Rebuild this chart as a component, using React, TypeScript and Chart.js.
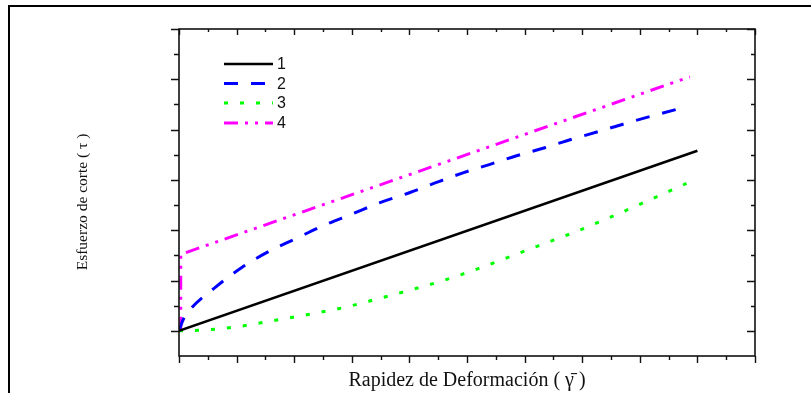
import React, { useEffect, useRef } from "react";
import { Chart, registerables } from "chart.js";

Chart.register(...registerables);

// ---- Data ----
const seriesLabels = ["1", "2", "3", "4"];

const series1X = [0, 9.0];
const series1Y = [0, 3.58];

const series2X = [0, 0.075, 0.22, 0.625, 1.09, 1.58, 2.04, 2.5, 3.0, 3.49, 4.01, 4.47, 4.93, 5.4, 5.86, 6.35, 6.82, 7.31, 7.74, 8.21, 8.7, 8.84];
const series2Y = [0, 0.23, 0.46, 0.86, 1.26, 1.59, 1.84, 2.09, 2.32, 2.55, 2.75, 2.95, 3.14, 3.31, 3.48, 3.64, 3.81, 3.97, 4.12, 4.27, 4.42, 4.46];

const series3X = [0, 0.5, 1.0, 1.72, 2.27, 2.85, 3.43, 3.98, 4.56, 5.08, 5.69, 6.24, 6.82, 7.37, 7.95, 8.52, 8.81];
const series3Y = [0, 0.02, 0.08, 0.22, 0.33, 0.46, 0.63, 0.8, 0.99, 1.19, 1.45, 1.69, 1.94, 2.2, 2.49, 2.78, 2.93];

const series4X = [0.03, 0.03, 8.87];
const series4Y = [0, 1.52, 5.05];

const xMajorTicks = [0, 1, 2, 3, 4, 5, 6, 7, 8, 9, 10];
const xMinorTicks = [0.5, 1.5, 2.5, 3.5, 4.5, 5.5, 6.5, 7.5, 8.5, 9.5];
const yMajorTicks = [0, 1, 2, 3, 4, 5, 6];
const yMinorTicks = [0.5, 1.5, 2.5, 3.5, 4.5, 5.5];

const xAxisTitle = "Rapidez de Deformación ( γ\u0304 )";
const yAxisTitle = "Esfuerzo de corte ( τ )";

const toPoints = (xs: number[], ys: number[]) => xs.map((x, i) => ({ x, y: ys[i] }));

const decorPlugin = {
  id: "decor",
  afterDatasetsDraw(chart: any) {
    const { ctx, chartArea } = chart;
    const xs = chart.scales.x;
    const ys = chart.scales.y;
    const { left, right, top, bottom } = chartArea;
    ctx.save();

    // outer page frame (top + left)
    ctx.strokeStyle = "#000";
    ctx.lineWidth = 2;
    ctx.beginPath();
    ctx.moveTo(9, 400);
    ctx.lineTo(9, 6);
    ctx.lineTo(820, 6);
    ctx.stroke();

    // plot box
    ctx.lineWidth = 1.6;
    ctx.strokeStyle = "#111";
    ctx.strokeRect(left, top, right - left, bottom - top);

    // ticks
    ctx.lineWidth = 1.4;
    ctx.beginPath();
    const xt = (vals: number[], outLen: number, inLen: number) => {
      vals.forEach((v) => {
        const px = Math.round(xs.getPixelForValue(v)) + 0.5;
        ctx.moveTo(px, bottom);
        ctx.lineTo(px, bottom + outLen);
        ctx.moveTo(px, top);
        ctx.lineTo(px, top + inLen);
      });
    };
    const yt = (vals: number[], outLen: number, inLen: number) => {
      vals.forEach((v) => {
        const py = Math.round(ys.getPixelForValue(v)) + 0.5;
        ctx.moveTo(left, py);
        ctx.lineTo(left - outLen, py);
        ctx.moveTo(right, py);
        ctx.lineTo(right - inLen, py);
      });
    };
    xt(xMajorTicks, 7, 6);
    xt(xMinorTicks, 4, 3);
    yt(yMajorTicks, 8, 8);
    yt(yMinorTicks, 5, 4);
    ctx.stroke();

    // axis titles
    ctx.fillStyle = "#111";
    ctx.font = '20px "Liberation Serif", "Times New Roman", serif';
    ctx.textAlign = "center";
    ctx.textBaseline = "middle";
    ctx.fillText(xAxisTitle, (left + right) / 2, 381);

    ctx.save();
    ctx.translate(83, 202);
    ctx.rotate(-Math.PI / 2);
    ctx.font = '15.5px "Liberation Serif", "Times New Roman", serif';
    ctx.fillText(yAxisTitle, 0, 0);
    ctx.restore();

    // legend inside plot
    const lx0 = 224;
    const lx1 = 273;
    const rowY = [64, 83.5, 103, 123];
    chart.data.datasets.forEach((ds: any, i: number) => {
      const y = rowY[i];
      ctx.save();
      ctx.strokeStyle = ds.borderColor;
      ctx.lineWidth = ds.borderWidth;
      ctx.setLineDash(ds.borderDash || []);
      ctx.lineCap = "butt";
      ctx.beginPath();
      ctx.moveTo(lx0, y);
      ctx.lineTo(lx1, y);
      ctx.stroke();
      ctx.restore();
      ctx.fillStyle = "#111";
      ctx.font = '16px "Liberation Sans", Arial, sans-serif';
      ctx.textAlign = "left";
      ctx.textBaseline = "middle";
      ctx.fillText(ds.label, 277, y + 1);
    });

    ctx.restore();
  },
};

export default function App() {
  const canvasRef = useRef<HTMLCanvasElement | null>(null);

  useEffect(() => {
    if (!canvasRef.current) return;
    const chart = new Chart(canvasRef.current, {
      type: "scatter",
      data: {
        datasets: [
          {
            label: seriesLabels[0],
            data: toPoints(series1X, series1Y),
            showLine: true,
            borderColor: "#000000",
            borderWidth: 2.5,
            pointRadius: 0,
            tension: 0,
          },
          {
            label: seriesLabels[1],
            data: toPoints(series2X, series2Y),
            showLine: true,
            borderColor: "#0000ff",
            borderWidth: 3,
            borderDash: [14, 13],
            pointRadius: 0,
            cubicInterpolationMode: "monotone",
          },
          {
            label: seriesLabels[2],
            data: toPoints(series3X, series3Y),
            showLine: true,
            borderColor: "#00ff00",
            borderWidth: 3,
            borderDash: [4, 12],
            pointRadius: 0,
            cubicInterpolationMode: "monotone",
          },
          {
            label: seriesLabels[3],
            data: toPoints(series4X, series4Y),
            showLine: true,
            borderColor: "#ff00ff",
            borderWidth: 3,
            borderDash: [14, 7, 3, 7, 3, 7],
            pointRadius: 0,
            tension: 0,
          },
        ] as any,
      },
      options: {
        responsive: false,
        animation: false,
        layout: { padding: { top: 29, right: 56, bottom: 0, left: 0 } },
        plugins: {
          legend: { display: false },
          tooltip: { enabled: false },
        },
        scales: {
          x: {
            type: "linear",
            min: 0,
            max: 10,
            grid: { display: false },
            ticks: { display: false },
            border: { display: false },
            afterFit: (s: any) => {
              s.height = 37;
            },
          },
          y: {
            type: "linear",
            min: -0.5,
            max: 6,
            grid: { display: false },
            ticks: { display: false },
            border: { display: false },
            afterFit: (s: any) => {
              s.width = 179;
            },
          },
        },
      } as any,
      plugins: [decorPlugin],
    });
    return () => chart.destroy();
  }, []);

  return (
    <div style={{ position: "fixed", left: 0, top: 0, width: 811, height: 393, background: "#fff" }}>
      <canvas ref={canvasRef} width={811} height={393} style={{ display: "block" }} />
    </div>
  );
}
